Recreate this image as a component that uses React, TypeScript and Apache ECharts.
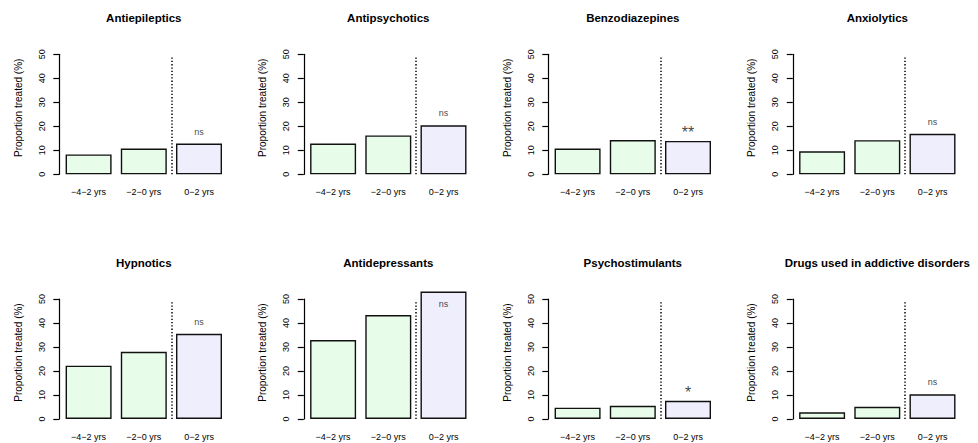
import React, { useEffect, useRef } from "react";
import * as echarts from "echarts";

// ---- data ----
const drugClasses = [
  "Antiepileptics",
  "Antipsychotics",
  "Benzodiazepines",
  "Anxiolytics",
  "Hypnotics",
  "Antidepressants",
  "Psychostimulants",
  "Drugs used in addictive disorders",
];
const periods = ["\u22124\u22122 yrs", "\u22122\u22120 yrs", "0\u22122 yrs"];
const pre4to2 = [8.3, 12.8, 10.7, 9.6, 22.2, 32.9, 4.7, 2.8];
const pre2to0 = [10.7, 16.2, 14.3, 14.2, 28.0, 43.3, 5.5, 5.1];
const post0to2 = [12.8, 20.4, 13.9, 16.9, 35.5, 53.1, 7.6, 10.3];
const significance = ["ns", "ns", "**", "ns", "ns", "ns", "*", "ns"];
const yTicks = [0, 10, 20, 30, 40, 50];
const yAxisTitle = "Proportion treated (%)";
const dividerX = 1.5; // between the pre and post bars
const dividerTop = 49;

// ---- layout / style ----
const FONT = '"Liberation Sans", Arial, Helvetica, sans-serif';
const W = 978;
const H = 443;
const PANEL_DX = 244.5;
const PANEL_DY = 244.7;
const AXIS_X0 = 59.3;
const ZERO_Y0 = 174.3;
const AXIS_GAP = 1.7;
const BAND = 55.2;
const PLOT_H = 120;
const PRE_COLOR = "#E8FDE9";
const POST_COLOR = "#EEEEFD";

export default function App() {
  const ref = useRef<HTMLDivElement>(null);

  useEffect(() => {
    if (!ref.current) return;
    const chart = echarts.init(ref.current, undefined, { renderer: "svg" });

    const grid: any[] = [];
    const xAxis: any[] = [];
    const yAxis: any[] = [];
    const series: any[] = [];
    const graphic: any[] = [];

    drugClasses.forEach((name, i) => {
      const r = Math.floor(i / 4);
      const c = i % 4;
      const left = AXIS_X0 + AXIS_GAP + c * PANEL_DX;
      const top = ZERO_Y0 - PLOT_H + r * PANEL_DY;
      grid.push({ left, top, width: 3 * BAND, height: PLOT_H });

      xAxis.push({
        type: "category",
        gridIndex: i,
        data: periods,
        axisLine: { show: false, onZero: false },
        axisTick: { show: false },
        axisLabel: { margin: 13, fontSize: 9, color: "#000", fontFamily: FONT },
      });
      xAxis.push({
        type: "value",
        gridIndex: i,
        min: -0.5,
        max: 2.5,
        show: false,
        axisLine: { onZero: false },
      });

      yAxis.push({
        type: "value",
        gridIndex: i,
        position: "left",
        min: yTicks[0],
        max: yTicks[yTicks.length - 1],
        interval: yTicks[1] - yTicks[0],
        offset: AXIS_GAP,
        splitLine: { show: false },
        axisLine: { show: true, onZero: false, lineStyle: { color: "#000", width: 1.2 } },
        axisTick: { show: true, length: 6, lineStyle: { color: "#000", width: 1.2 } },
        axisLabel: {
          rotate: 90,
          fontSize: 9,
          color: "#000",
          fontFamily: FONT,
          margin: 13,
          align: "center",
          verticalAlign: "bottom",
        },
        name: yAxisTitle,
        nameLocation: "middle",
        nameRotate: 90,
        nameGap: 36,
        nameTextStyle: {
          fontSize: 10,
          color: "#000",
          fontFamily: FONT,
          padding: [0, 0, 0, 13],
        },
      });

      const vals = [pre4to2[i], pre2to0[i], post0to2[i]];
      series.push({
        type: "bar",
        xAxisIndex: 2 * i,
        yAxisIndex: i,
        barWidth: 46,
        clip: false,
        silent: true,
        data: vals.map((v, k) => ({
          value: v,
          itemStyle: {
            color: k < 2 ? PRE_COLOR : POST_COLOR,
            borderColor: "#111",
            borderWidth: 1.4,
          },
        })),
      });

      const sig = significance[i];
      const isStar = sig.indexOf("*") >= 0;
      const post = post0to2[i];
      const labelY = Math.min(post + 5, 48);
      series.push({
        type: "scatter",
        xAxisIndex: 2 * i + 1,
        yAxisIndex: i,
        symbolSize: 0,
        silent: true,
        clip: false,
        data: [[2, labelY]],
        label: {
          show: true,
          position: "inside",
          formatter: sig,
          fontFamily: FONT,
          fontSize: isStar ? 16 : 9,
          color: "#111",
          offset: isStar ? [0, 4] : [0, 0],
        },
        markLine: {
          silent: true,
          symbol: ["none", "none"],
          label: { show: false },
          lineStyle: { color: "#000", width: 1.5, type: [1.3, 2] },
          data: [[{ coord: [dividerX, 0] }, { coord: [dividerX, dividerTop] }]],
        },
      });

      graphic.push({
        type: "text",
        x: AXIS_X0 + c * PANEL_DX + 84.5,
        y: 18 + r * PANEL_DY,
        style: {
          text: name,
          align: "center",
          verticalAlign: "middle",
          fontFamily: FONT,
          fontSize: 11.5,
          fontWeight: "bold",
          fill: "#000",
        },
      });
    });

    chart.setOption({
      animation: false,
      backgroundColor: "#fff",
      grid,
      xAxis,
      yAxis,
      series,
      graphic,
    });

    return () => chart.dispose();
  }, []);

  return (
    <div
      ref={ref}
      style={{ position: "fixed", left: 0, top: 0, width: W, height: H }}
    />
  );
}
